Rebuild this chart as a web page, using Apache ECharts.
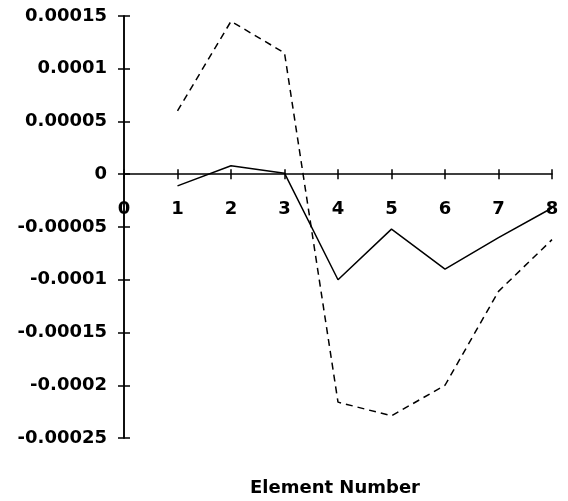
<!DOCTYPE html>
<html>
<head>
<meta charset="utf-8">
<script src="https://cdn.jsdelivr.net/npm/echarts@6/dist/echarts.min.js"></script>
<style>
  html, body { margin: 0; padding: 0; background: #fff; }
  #chart { width: 568px; height: 501px; }
</style>
</head>
<body>
<div id="chart"></div>
<script>
const elements = [1, 2, 3, 4, 5, 6, 7, 8]
const solidValues = [-0.000011, 0.000008, 0.000001, -0.0001, -0.000052, -0.00009, -0.00006, -0.000032]
const dashedValues = [0.00006, 0.000145, 0.000115, -0.000216, -0.000229, -0.0002, -0.000111, -0.000062]
const xTicks = [0, 1, 2, 3, 4, 5, 6, 7, 8]
const yTicks = [-0.00025, -0.0002, -0.00015, -0.0001, -0.00005, 0, 0.00005, 0.0001, 0.00015]
const xTitle = 'Element Number'

const font = 'DejaVu Sans'
const chart = echarts.init(document.getElementById('chart'))

const lineStyle = { color: '#000', width: 1.5 }
const gridTop = 16
const gridBottom = 63
const plotH = 501 - gridTop - gridBottom
const yMin = yTicks[0]
const yMax = yTicks[yTicks.length - 1]
// shift the labelled x axis up from the grid bottom to the zero line
const zeroOffset = -plotH * (0 - yMin) / (yMax - yMin)

const xBase = {
  type: 'value',
  min: xTicks[0],
  max: xTicks[xTicks.length - 1],
  interval: 1,
  axisTick: { length: 5, lineStyle },
  splitLine: { show: false },
}
const yBase = {
  type: 'value',
  min: yMin,
  max: yMax,
  interval: 0.00005,
  axisLine: { lineStyle },
  axisTick: { length: 6, lineStyle },
  splitLine: { show: false },
}

const option = {
  backgroundColor: '#fff',
  animation: false,
  title: {
    text: xTitle,
    left: 335,
    top: 479,
    textAlign: 'center',
    padding: 0,
    textStyle: { color: '#000', fontFamily: font, fontWeight: 'bold', fontSize: 18 },
  },
  grid: { left: 124, right: 16, top: gridTop, bottom: gridBottom, outerBoundsMode: 'none', containLabel: false },
  xAxis: [
    {
      ...xBase,
      position: 'bottom',
      offset: zeroOffset,
      axisLine: { show: false, onZero: false },
      axisLabel: {
        margin: 26,
        color: '#000',
        fontFamily: font,
        fontWeight: 'bold',
        fontSize: 18,
        formatter: v => String(v),
      },
    },
    { ...xBase, position: 'top', axisLine: { onZero: true, lineStyle }, axisLabel: { show: false } },
  ],
  yAxis: [
    {
      ...yBase,
      position: 'left',
      axisLabel: {
        margin: 17,
        color: '#000',
        fontFamily: font,
        fontWeight: 'bold',
        fontSize: 18,
        formatter: v => String(+v.toFixed(5)),
      },
    },
    { ...yBase, position: 'right', axisLine: { onZero: true, lineStyle }, axisLabel: { show: false } },
  ],
  series: [
    {
      type: 'line',
      data: elements.map((x, i) => [x, solidValues[i]]),
      symbol: 'none',
      lineStyle: { color: '#000', width: 1.5 },
    },
    {
      type: 'line',
      data: elements.map((x, i) => [x, dashedValues[i]]),
      symbol: 'none',
      lineStyle: { color: '#000', width: 1.5, type: [7, 5] },
    },
  ],
}

chart.setOption(option)
</script>
</body>
</html>
